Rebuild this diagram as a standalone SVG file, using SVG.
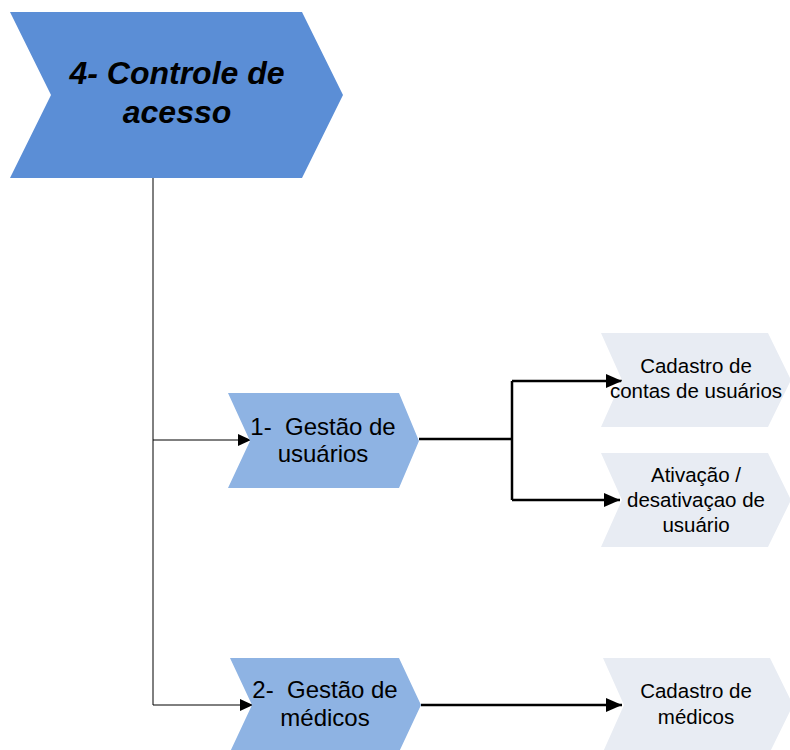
<svg xmlns="http://www.w3.org/2000/svg" width="790" height="750" viewBox="0 0 790 750">
<style>
.t{font-family:"Liberation Sans",Arial,sans-serif;fill:#000;text-anchor:middle}
.main{font-size:32px;font-weight:bold;font-style:italic}
.mid{font-size:24px}
.sm{font-size:20.5px}
.thin{stroke:#000;stroke-width:1;fill:none}
.thick{stroke:#000;stroke-width:2.5;fill:none}
</style>
<defs>
<marker id="ah" markerWidth="14" markerHeight="12" refX="13" refY="6" orient="auto" markerUnits="userSpaceOnUse">
<path d="M0,0 L13,6 L0,12 Z" fill="#000"/>
</marker>
<marker id="ah2" markerWidth="17" markerHeight="14" refX="16" refY="7" orient="auto" markerUnits="userSpaceOnUse">
<path d="M0,0 L16,7 L0,14 Z" fill="#000"/>
</marker>
</defs>
<rect width="790" height="750" fill="#fff"/>
<g id="connectors">
<polyline class="thin" points="153,178 153,705"/>
<polyline class="thin" points="153,440 251,440" marker-end="url(#ah)"/>
<polyline class="thin" points="153,705 253,705" marker-end="url(#ah)"/>
<polyline class="thick" points="419,439 512,439"/>
<polyline class="thick" points="512,381 512,500"/>
<polyline class="thick" points="512,381 622,381" marker-end="url(#ah2)"/>
<polyline class="thick" points="512,500 620,500" marker-end="url(#ah2)"/>
<polyline class="thick" points="421,705 622,705" marker-end="url(#ah2)"/>
</g>
<g id="node-main">
<polygon points="10,12 302,12 343,95 302,178 10,178 51,95" fill="#5B8ED6"/>
<text class="t main" x="177" y="84">4- Controle de</text>
<text class="t main" x="177" y="123">acesso</text>
</g>
<g id="node-gestao-usuarios">
<polygon points="228,393 399,393 419,441 399,488 228,488 250,441" fill="#8EB3E3"/>
<text class="t mid" x="323" y="435" xml:space="preserve">1-  Gestão de</text>
<text class="t mid" x="323" y="462">usuários</text>
</g>
<g id="node-gestao-medicos">
<polygon points="230,658 399,658 421,705 399,752 230,752 252,705" fill="#8EB3E3"/>
<text class="t mid" x="325" y="698" xml:space="preserve">2-  Gestão de</text>
<text class="t mid" x="325" y="726">médicos</text>
</g>
<g id="node-cadastro-contas">
<polygon points="601,333 768,333 791,380 768,427 601,427 622,380" fill="#E8ECF3"/>
<text class="t sm" x="696" y="373">Cadastro de</text>
<text class="t sm" x="696" y="398">contas de usuários</text>
</g>
<g id="node-ativacao">
<polygon points="601,453 768,453 791,500 768,547 601,547 622,500" fill="#E8ECF3"/>
<text class="t sm" x="696" y="482">Ativação /</text>
<text class="t sm" x="696" y="507">desativaçao de</text>
<text class="t sm" x="696" y="532">usuário</text>
</g>
<g id="node-cadastro-medicos">
<polygon points="603,658 770,658 793,705 770,752 603,752 624,705" fill="#E8ECF3"/>
<text class="t sm" x="696" y="698">Cadastro de</text>
<text class="t sm" x="696" y="724">médicos</text>
</g>
</svg>
